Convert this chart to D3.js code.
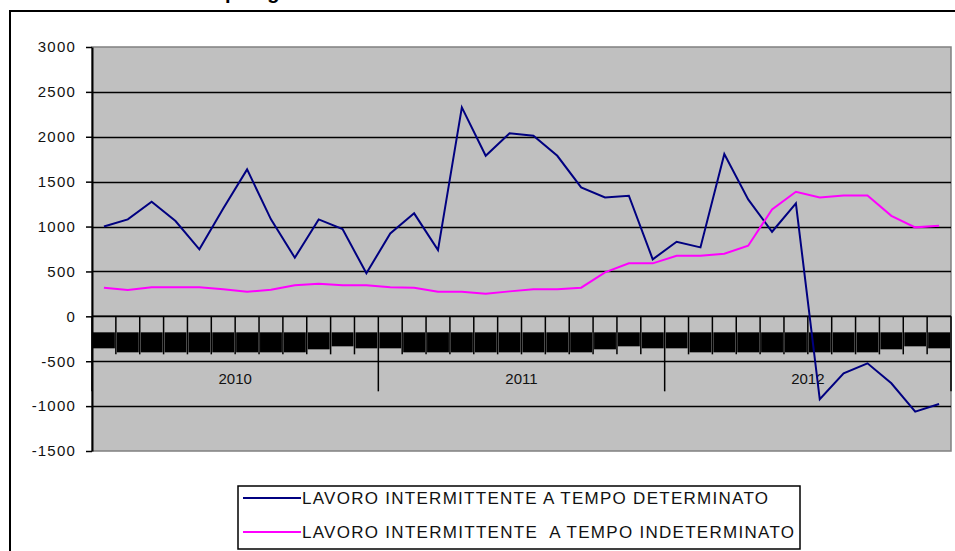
<!DOCTYPE html>
<html>
<head>
<meta charset="utf-8">
<script src="https://cdn.jsdelivr.net/npm/d3@7"></script>
<style>
  body { margin: 0; background: #fff; }
  svg { display: block; font-family: "Liberation Sans", Arial, sans-serif; }
</style>
</head>
<body>
<svg id="chart"></svg>
<script>
// Data
const years = ["2010", "2011", "2012"];
const months = ["gen", "feb", "mar", "apr", "mag", "giu", "lug", "ago", "set", "ott", "nov", "dic"];
const seriesNames = [
  "LAVORO INTERMITTENTE A TEMPO DETERMINATO",
  "LAVORO INTERMITTENTE  A TEMPO INDETERMINATO"
];
const determinato = [
  1000, 1080, 1276, 1061, 746, 1200, 1637, 1080, 653, 1080, 972, 479,
  924, 1147, 738, 2327, 1788, 2038, 2011, 1788, 1436, 1325, 1343, 635,
  831, 768, 1807, 1303, 942, 1258, -924, -635, -523, -746, -1062, -977
];
const indeterminato = [
  319, 293, 323, 323, 323, 301, 274, 296, 345, 363, 345, 345,
  323, 319, 274, 274, 252, 278, 301, 301, 319, 490, 590, 590,
  675, 675, 697, 786, 1191, 1388, 1325, 1347, 1347, 1120, 991, 1009
];
const yTicks = [-1500, -1000, -500, 0, 500, 1000, 1500, 2000, 2500, 3000];
const title = "Saldi mensili della tipologia di contratto";

// Configuration
const W = 955, H = 551;
const plot = { left: 92, right: 951, top: 47, bottom: 451 };
const colors = ["#000080", "#ff00ff"];

const categories = years.flatMap(y => months.map(m => `${m} ${y}`));

const svg = d3.select("#chart").attr("width", W).attr("height", H);

// Scales
const x = d3.scaleBand().domain(categories).range([plot.left, plot.right]);
const y = d3.scaleLinear().domain([-1500, 3000]).range([plot.bottom, plot.top]);
const y0 = y(0);

// Outer chart frame
svg.append("rect")
  .attr("x", 10).attr("y", 11)
  .attr("width", W + 20).attr("height", H + 20)
  .attr("fill", "#fff").attr("stroke", "#000").attr("stroke-width", 2);

// Title (mostly cut off by the top edge, as in the original)
const titleText = svg.append("text")
  .attr("y", -1)
  .attr("font-size", 20)
  .attr("font-weight", "bold")
  .text(title);
const pPos = titleText.node().getStartPositionOfChar(title.indexOf("p")).x;
titleText.attr("x", 225 - pPos);

// Plot area
svg.append("rect")
  .attr("x", plot.left).attr("y", plot.top)
  .attr("width", plot.right - plot.left).attr("height", plot.bottom - plot.top)
  .attr("fill", "#c0c0c0").attr("stroke", "#808080").attr("stroke-width", 1.5);

// Gridlines
svg.append("g")
  .selectAll("line")
  .data(yTicks.filter(d => d > -1500 && d < 3000))
  .join("line")
  .attr("x1", plot.left).attr("x2", plot.right)
  .attr("y1", d => Math.round(y(d)) + 0.5).attr("y2", d => Math.round(y(d)) + 0.5)
  .attr("stroke", "#000").attr("stroke-width", 1.3);

// Month label boxes (they came out as black blocks)
const depth = i => {
  const m = i % 12;
  if (m === 0 || m === 11) return 16;
  if (m === 9) return 17;
  if (m === 10) return 14;
  return 20;
};
svg.append("g")
  .selectAll("rect")
  .data(categories)
  .join("rect")
  .attr("x", d => x(d) + 1)
  .attr("width", x.bandwidth() - 2)
  .attr("y", y0 + 16)
  .attr("height", (d, i) => depth(i))
  .attr("fill", "#000");

// Category ticks
const bounds = d3.range(categories.length + 1).map(i => plot.left + i * x.step());
svg.append("g")
  .selectAll("line")
  .data(bounds)
  .join("line")
  .attr("x1", d => d).attr("x2", d => d)
  .attr("y1", y0)
  .attr("y2", (d, i) => i % 12 === 0 ? y0 + 75 : y0 + 38)
  .attr("stroke", "#000").attr("stroke-width", 1.5);

// Year labels
svg.append("g")
  .selectAll("text")
  .data(years)
  .join("text")
  .attr("x", d => (x(`${months[0]} ${d}`) + x(`${months[11]} ${d}`) + x.bandwidth()) / 2)
  .attr("y", y0 + 68)
  .attr("text-anchor", "middle")
  .attr("font-size", 15)
  .attr("fill", "#111")
  .text(d => d);

// Category axis line at zero
svg.append("line")
  .attr("x1", plot.left).attr("x2", plot.right)
  .attr("y1", y0).attr("y2", y0)
  .attr("stroke", "#000").attr("stroke-width", 1.5);

// Y axis
const yAxis = svg.append("g")
  .attr("transform", `translate(${plot.left},0)`)
  .call(d3.axisLeft(y).tickValues(yTicks).tickFormat(d => String(d))
    .tickSize(6).tickSizeOuter(0).tickPadding(10));
yAxis.select(".domain").attr("stroke", "#000").attr("stroke-width", 2);
yAxis.selectAll(".tick line").attr("stroke", "#000").attr("stroke-width", 1.5);
yAxis.selectAll(".tick text")
  .attr("font-family", "Liberation Sans, Arial, sans-serif")
  .attr("font-size", 15)
  .attr("letter-spacing", 1.2)
  .attr("fill", "#111");

// Lines
const line = d3.line()
  .x((d, i) => x(categories[i]) + x.bandwidth() / 2)
  .y(d => y(d));

[determinato, indeterminato].forEach((series, k) => {
  svg.append("path")
    .datum(series)
    .attr("fill", "none")
    .attr("stroke", colors[k])
    .attr("stroke-width", 2)
    .attr("d", line);
});

// Legend
const legend = svg.append("g");
legend.append("rect")
  .attr("x", 238).attr("y", 486)
  .attr("width", 562).attr("height", 63)
  .attr("fill", "#fff").attr("stroke", "#000").attr("stroke-width", 1.5);

const legendWidths = [466, 492];
seriesNames.forEach((name, k) => {
  const ly = 498 + k * 34;
  legend.append("line")
    .attr("x1", 243).attr("x2", 301)
    .attr("y1", ly).attr("y2", ly)
    .attr("stroke", colors[k]).attr("stroke-width", 2);
  legend.append("text")
    .attr("x", 302).attr("y", ly + 6)
    .style("font-size", "17px")
    .attr("textLength", legendWidths[k])
    .attr("lengthAdjust", "spacing")
    .attr("fill", "#111")
    .style("white-space", "pre")
    .text(name);
});
</script>
</body>
</html>
